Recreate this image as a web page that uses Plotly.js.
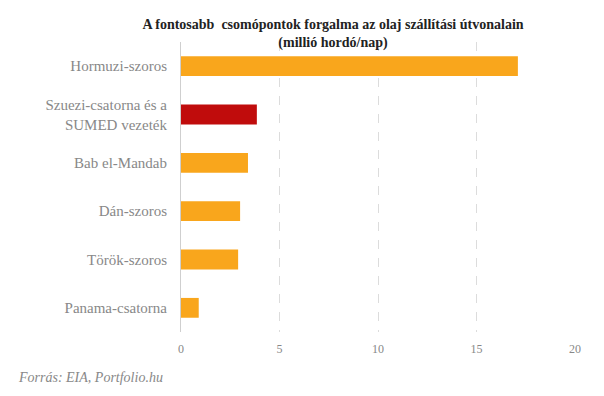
<!DOCTYPE html>
<html>
<head>
<meta charset="utf-8">
<script src="https://cdn.plot.ly/plotly-3.0.1.min.js"></script>
<style>html,body{margin:0;padding:0;background:#fff;}#chart{width:604px;height:396px;}</style>
</head>
<body>
<div id="chart"></div>
<script>
const categories = ["Hormuzi-szoros", "Szuezi-csatorna és a<br>SUMED vezeték", "Bab el-Mandab", "Dán-szoros", "Török-szoros", "Panama-csatorna"];
const values = [17.1, 3.85, 3.4, 3.0, 2.9, 0.9];
const barColors = ["#F9A61C", "#C00C0C", "#F9A61C", "#F9A61C", "#F9A61C", "#F9A61C"];
const xTickVals = [0, 5, 10, 15, 20];
const titleText = "A fontosabb  csomópontok forgalma az olaj szállítási útvonalain<br>(millió hordó/nap)";
const sourceText = "Forrás: EIA, Portfolio.hu";

const serif = "'Liberation Serif', 'DejaVu Serif', serif";
const trace = {
  type: "bar",
  orientation: "h",
  y: categories,
  x: values,
  marker: {color: barColors},
  width: 0.41,
  hoverinfo: "none"
};
const plotW = 604 - 181 - 28, plotH = 396 - 42 - 64;
const layout = {
  width: 604, height: 396,
  margin: {l: 181, r: 28, t: 42, b: 64},
  paper_bgcolor: "#fff", plot_bgcolor: "#fff",
  showlegend: false,
  title: {
    text: titleText,
    x: 333 / 604, xanchor: "center", xref: "container",
    y: 0.928, yanchor: "top", yref: "container",
    font: {family: serif, size: 14, color: "#222", weight: "bold"}
  },
  xaxis: {
    range: [0, 20.05],
    tickvals: xTickVals,
    ticktext: xTickVals.map(String),
    showgrid: true, gridcolor: "#dcdcdc", griddash: "dash", gridwidth: 1,
    zeroline: false, showline: false,
    ticks: "", ticklabelstandoff: 8,
    tickfont: {family: serif, size: 12, color: "#888"},
    fixedrange: true
  },
  yaxis: {
    autorange: "reversed",
    categoryorder: "array", categoryarray: categories,
    showgrid: false, zeroline: false,
    showline: true, linecolor: "#cfcfcf", linewidth: 1,
    ticks: "", ticklabelstandoff: 10,
    tickfont: {family: serif, size: 15, color: "#888"},
    fixedrange: true
  },
  annotations: [{
    text: "<i>" + sourceText + "</i>",
    xref: "paper", yref: "paper",
    x: -165 / plotW, xanchor: "left",
    y: -45 / plotH, yanchor: "middle",
    showarrow: false,
    font: {family: serif, size: 14, color: "#888"}
  }]
};
Plotly.newPlot("chart", [trace], layout, {displayModeBar: false, staticPlot: true});
</script>
</body>
</html>
